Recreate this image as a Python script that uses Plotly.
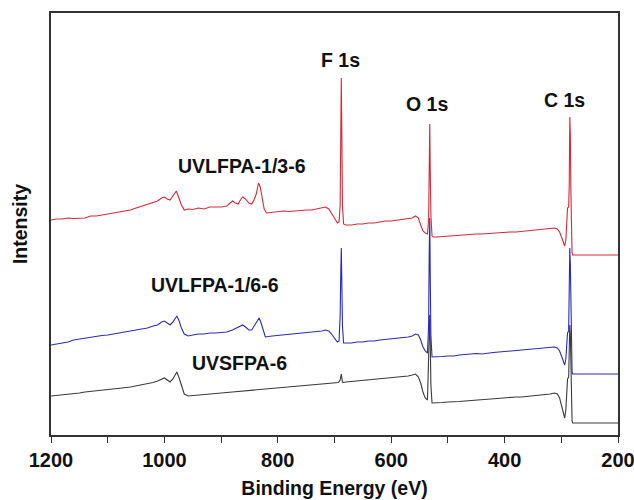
import plotly.graph_objects as go

# ---------------- data (binding energy in eV, intensity in arbitrary units) ----------------
red_energy = [1200,1190,1180,1170,1160,1150,1140,1130,1120,1110,1100,1090,1075,1060,1050,1040,1030,1020,1012,1005,
              1000,995,990,985,979,975,970,965,958,950,940,930,920,910,900,890,884,880,875,870,866,862,857,851,846,842,
              838,834,831,828,824,820,810,800,790,780,770,760,750,740,730,722,716,710,704,699,695,692,690,689,688,687,
              686,684,680,670,660,650,640,630,620,610,600,590,580,570,563,557,552,548,544,540,536,534,533,532,531,530,
              528,525,520,510,500,490,480,470,460,450,440,430,420,410,400,390,380,370,360,350,340,330,320,312,307,303,
              299,296,294,292,290,289,287,286,285,284,283,282,281,280,270,250,230,200]
red_intensity = [215,216,216,217,216.5,217,217,219,219,220,221,222,223,225,227,229,231,233,234,237,
                 238,236,235,239,244,238,230,225,226,225.5,227,226,228,228,228,229,232,234,232,231,235,238,236,232,231,235,
                 241,252,248,240,226,222,222.5,223,224,223.5,224,225,225,225,226,227,228,226,221,216,212,213,230,300,357,300,
                 230,211,210,210,211,211,212,212,213,214,214,215,216,216.5,217,219,217,210,204,202,201,215,280,311,260,220,
                 199,198,198,198.5,199,199,200,200,200.5,201,201,201.5,202,202,202.5,203,203,203.5,204,204.5,205,205.5,206,207,206,203,
                 197,191,189,195,222,227,228,250,318,300,240,190,182,180,180,180,180,180]

blue_energy = [1200,1190,1180,1170,1160,1150,1140,1130,1120,1110,1100,1090,1075,1060,1050,1040,1030,1020,1012,1005,
               1000,995,990,985,978,974,970,965,958,950,940,930,920,910,900,890,880,872,866,862,857,851,846,842,
               837,833,830,826,822,810,800,790,780,770,760,750,740,730,722,716,710,704,699,695,692,690,689,688,687,
               686,684,680,670,660,650,640,630,620,610,600,590,580,570,563,557,552,548,544,540,536,534,533,532,531,530,
               528,525,520,510,500,490,480,470,460,450,440,430,420,410,400,390,380,370,360,350,340,330,320,312,307,303,
               299,296,294,292,290,289,287,286,285,284,283,282,281,280,270,250,230,200]
blue_intensity = [90,91,92,93,95,96,97,98,99,99.5,100,101,102,104,105,106,107,109,110,113,
                  114,112,110,113,119,114,107,101,99,100,101,101,102,102,102.5,103,105,107,109,110,108,105,105,109,
                  113,117,113,105,98,99,99.5,100,100.5,101,101.5,102,102.5,103,104,105,104,100,96,93,94,120,160,187,150,
                  110,92,92,92,93,93,94,94,95,95.5,96,97,97.5,98,99,101,100,95,88,84,82,110,180,217,150,100,
                  78,78,78,78.5,79,79,80,80.5,81,81.5,81,82,82.5,83,83.5,84,84,84.5,85,85.5,86,86.5,87,88,87,84,
                  78,72,70,76,98,102,104,130,187,170,120,70,63,61,61,61,61,61]

black_energy = [1200,1190,1180,1170,1160,1150,1140,1130,1120,1110,1100,1090,1075,1060,1050,1040,1030,1020,1012,1005,
                1000,995,990,985,978,974,970,965,958,950,940,930,920,910,900,890,880,870,860,850,840,830,820,810,800,
                790,780,770,760,750,740,730,720,710,700,693,690,688,686,684,680,670,660,650,640,630,620,610,600,590,580,
                570,563,557,552,548,544,540,536,534,533,532,531,530,528,525,520,510,500,490,480,470,460,450,440,430,420,
                410,400,390,380,370,360,350,340,330,320,312,307,303,299,296,294,292,290,289,287,286,285,284,283,282,281,
                280,270,250,230,200]
black_intensity = [39,39.5,40,41,41,42,43,43.5,44,44.5,45,46,47,48,49,50,51,52.5,54,56,
                   57,55,53,56,63,57,49,41,39,39.5,40,40.5,41,41.5,42,42.5,43,43.5,44,44.5,45,45.5,45.5,46,46.5,
                   47,47.5,48,49,49.5,50,50.5,51,51.5,52,52.5,55,61,53,52.5,53,53.5,54,54.5,55,55.5,56,56.5,57,57.5,58,
                   59,60,61,58,52,43,37,35,70,110,120,90,50,32,32,32,32.5,33,33,33.5,34,34.5,35,35,35.5,36,
                   36.5,37,37.5,38,38,38.5,39,39.5,40,41,42,41,37,29,21,17,25,50,56,58,80,110,100,60,20,14,
                   12,12,12,12,12]

series_names = ["UVSFPA-6", "UVLFPA-1/6-6", "UVLFPA-1/3-6"]
series_colors = ["#3a3a3a", "#2a2ab8", "#d22a3a"]

peak_labels = ["F 1s", "O 1s", "C 1s"]
peak_label_x = [690, 537, 294]
peak_label_y = [375, 331, 335]

sample_label_x = [867, 911, 864]
sample_label_y = [72, 150, 269]

x_tick_vals = [1200, 1000, 800, 600, 400, 200]

# ---------------- figure ----------------
FONT = "Liberation Sans, Arial, sans-serif"
fig = go.Figure()
for name, ex, ey, col in zip(series_names,
                             [black_energy, blue_energy, red_energy],
                             [black_intensity, blue_intensity, red_intensity],
                             series_colors):
    fig.add_trace(go.Scatter(x=ex, y=ey, mode="lines", name=name,
                             line=dict(color=col, width=1.1), showlegend=False))

for t, x, y in zip(peak_labels, peak_label_x, peak_label_y):
    fig.add_annotation(x=x, y=y, xref="x", yref="y", text=t, showarrow=False,
                       font=dict(family=FONT, size=19.5, color="#111", weight="bold"))
for t, x, y in zip(series_names, sample_label_x, sample_label_y):
    fig.add_annotation(x=x, y=y, xref="x", yref="y", text=t, showarrow=False,
                       font=dict(family=FONT, size=19.5, color="#111", weight="bold"))

fig.update_layout(
    width=634, height=500,
    margin=dict(l=51, r=16, t=13, b=65),
    paper_bgcolor="white", plot_bgcolor="white",
    font=dict(family=FONT, color="#111"),
)
fig.update_xaxes(
    range=[1200, 200], tickvals=x_tick_vals, ticktext=[str(v) for v in x_tick_vals],
    showgrid=False, zeroline=False,
    showline=True, mirror=True, linecolor="#333", linewidth=1.6,
    ticks="outside", ticklen=6, tickwidth=1.4, tickcolor="#333",
    minor=dict(dtick=100, ticks="outside", ticklen=6, tickwidth=1.4, tickcolor="#333", showgrid=False),
    tickfont=dict(family=FONT, size=20, color="#111", weight="bold"),
    ticklabeloverflow="allow",
    title=dict(text="Binding Energy (eV)", standoff=12,
               font=dict(family=FONT, size=19.5, color="#111", weight="bold")),
    automargin=False,
)
fig.update_yaxes(
    range=[0, 422], showticklabels=False, ticks="", showgrid=False, zeroline=False,
    showline=True, mirror=True, linecolor="#333", linewidth=1.6,
    title=dict(text="Intensity", standoff=16,
               font=dict(family=FONT, size=19.5, color="#111", weight="bold")),
    automargin=False,
)

fig.write_html("out.html")
